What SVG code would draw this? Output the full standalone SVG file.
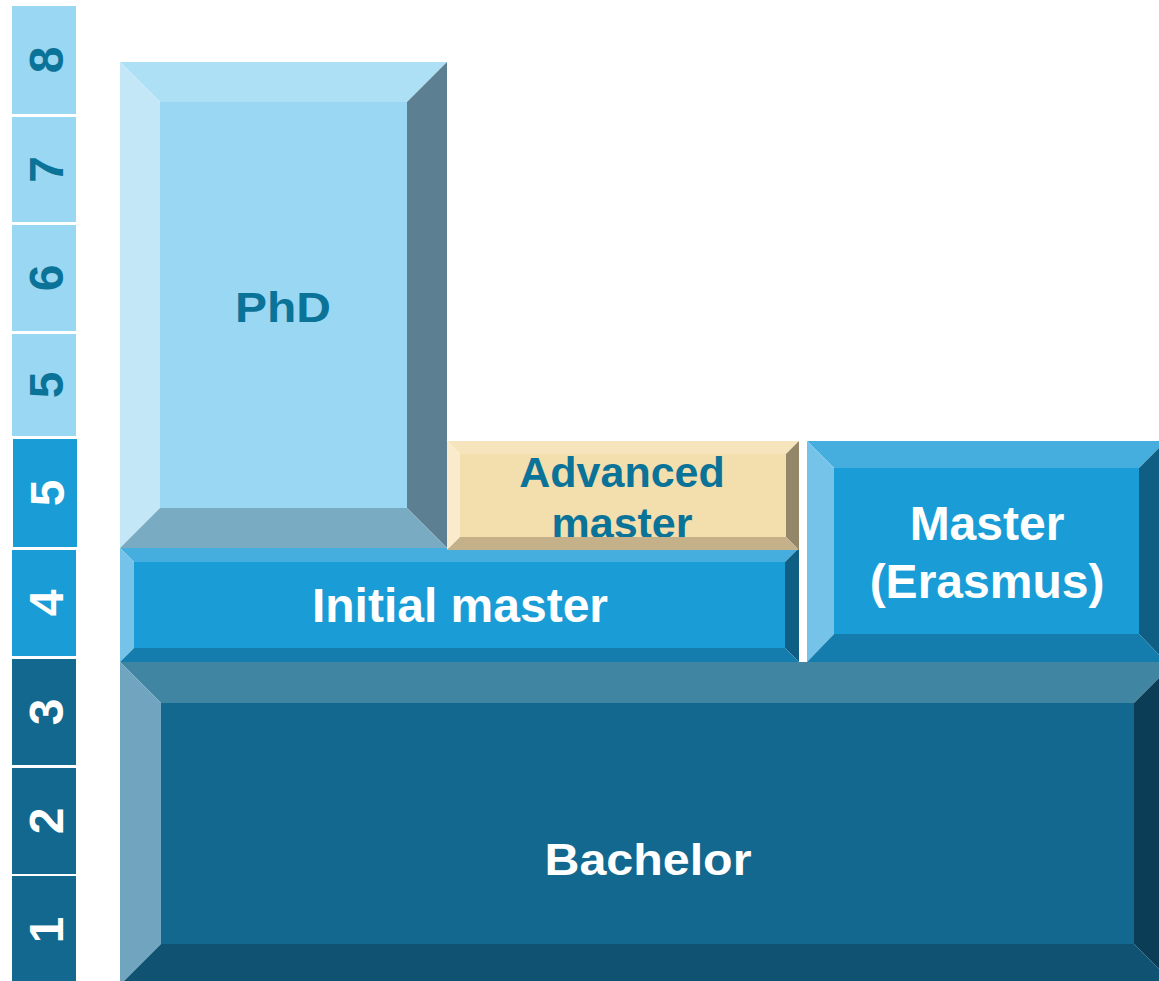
<svg xmlns="http://www.w3.org/2000/svg" width="1159" height="981" viewBox="0 0 1159 981">
<style>
text{font-family:"Liberation Sans",Arial,sans-serif;font-weight:bold;text-anchor:middle}
.num{font-size:48px}
.teal{fill:#0b7398}
.wh{fill:#ffffff}
.cl{fill:#99d7f2}.cm{fill:#1a9cd6}.cd{fill:#12688e}
</style>
<rect width="1159" height="981" fill="#ffffff"/>
<g id="scale">
<g id="lvl8"><rect class="cl" x="12" y="6" width="64" height="108"/><text class="num teal" transform="translate(63,60) rotate(-90)">8</text></g>
<g id="lvl7"><rect class="cl" x="12" y="117" width="64" height="105"/><text class="num teal" transform="translate(63,169.5) rotate(-90)">7</text></g>
<g id="lvl6"><rect class="cl" x="12" y="225" width="64" height="106"/><text class="num teal" transform="translate(63,278) rotate(-90)">6</text></g>
<g id="lvl5a"><rect class="cl" x="12" y="334" width="64" height="102"/><text class="num teal" transform="translate(63,385) rotate(-90)">5</text></g>
<g id="lvl5b"><rect class="cm" x="13" y="439" width="64" height="108"/><text class="num wh" transform="translate(64,493) rotate(-90)">5</text></g>
<g id="lvl4"><rect class="cm" x="12" y="550" width="64" height="106"/><text class="num wh" transform="translate(63,603) rotate(-90)">4</text></g>
<g id="lvl3"><rect class="cd" x="12" y="659" width="64" height="106"/><text class="num wh" transform="translate(63,712) rotate(-90)">3</text></g>
<g id="lvl2"><rect class="cd" x="12" y="768" width="64" height="106"/><text class="num wh" transform="translate(63,821) rotate(-90)">2</text></g>
<g id="lvl1"><rect class="cd" x="12" y="876" width="64" height="109"/><text class="num wh" transform="translate(63,930) rotate(-90)">1</text></g>
</g>

<g id="bachelor">
<rect x="161" y="703" width="973" height="241" fill="#12688e"/>
<polygon points="120,662 1175,662 1134,703 161,703" fill="#4086a3"/>
<polygon points="120,662 161,703 161,944 120,985" fill="#71a5bf"/>
<polygon points="1175,662 1175,985 1134,944 1134,703" fill="#0b3d56"/>
<polygon points="120,985 1175,985 1134,944 161,944" fill="#0f5271"/>
<text class="wh" x="648" y="875" font-size="44" textLength="207" lengthAdjust="spacingAndGlyphs">Bachelor</text>
</g>

<g id="initial-master">
<rect x="134" y="562" width="651" height="86" fill="#1a9dd6"/>
<polygon points="120,548 799,548 785,562 134,562" fill="#46aedf"/>
<polygon points="120,548 134,562 134,648 120,662" fill="#75c3e8"/>
<polygon points="799,548 799,662 785,648 785,562" fill="#0f5f85"/>
<polygon points="120,662 799,662 785,648 134,648" fill="#147dae"/>
<text class="wh" x="460" y="622" font-size="48">Initial master</text>
</g>

<g id="phd">
<rect x="160" y="102" width="247" height="406" fill="#99d7f2"/>
<polygon points="120,62 447,62 407,102 160,102" fill="#ade0f5"/>
<polygon points="120,62 160,102 160,508 120,548" fill="#c4e7f8"/>
<polygon points="447,62 447,548 407,508 407,102" fill="#5c7f91"/>
<polygon points="120,548 447,548 407,508 160,508" fill="#79acc2"/>
<text class="teal" x="283" y="322" font-size="42" textLength="96" lengthAdjust="spacingAndGlyphs">PhD</text>
</g>

<g id="advanced-master">
<rect x="460" y="454" width="326" height="83" fill="#f3dead"/>
<polygon points="447,441 799,441 786,454 460,454" fill="#f6e4bd"/>
<polygon points="447,441 460,454 460,537 447,550" fill="#faebcc"/>
<polygon points="799,441 799,550 786,537 786,454" fill="#938669"/>
<text class="teal" x="622" y="487" font-size="43">Advanced</text>
<text class="teal" x="622" y="537.5" font-size="43">master</text>
<polygon points="447,550 799,550 786,537 460,537" fill="#c4b189"/>
</g>

<g id="master-erasmus">
<rect x="834" y="468" width="305" height="166" fill="#1a9dd6"/>
<polygon points="807,441 1166,441 1139,468 834,468" fill="#46aedf"/>
<polygon points="807,441 834,468 834,634 807,662" fill="#75c3e8"/>
<polygon points="1166,441 1166,662 1139,634 1139,468" fill="#0f5f85"/>
<polygon points="807,662 1166,662 1139,634 834,634" fill="#147dae"/>
<text class="wh" x="987" y="540" font-size="48">Master</text>
<text class="wh" x="987" y="598" font-size="48">(Erasmus)</text>
</g>
</svg>
